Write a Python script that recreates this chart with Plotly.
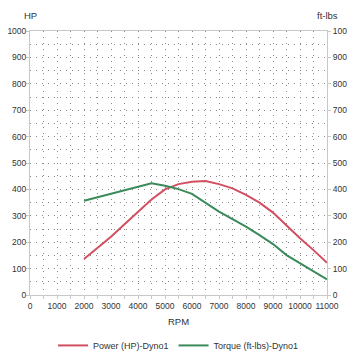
import plotly.graph_objects as go

rpm = [2000, 2500, 3000, 3500, 4000, 4500, 5000, 5500, 6000, 6500, 7000, 7500,
       8000, 8500, 9000, 9500, 10000, 10500, 11000]
power_hp = [136, 178, 221, 268, 315, 362, 400, 420, 429, 432, 420, 404,
            379, 350, 312, 262, 215, 170, 122]
torque_ftlbs = [357, 370, 383, 398, 410, 423, 414, 401, 383, 350, 316, 287,
                259, 227, 193, 151, 120, 88, 59]

x_ticks = list(range(0, 11001, 1000))
y_ticks = list(range(0, 1001, 100))

RED = "#d24f60"
GREEN = "#3b8a5a"
AX = "#c8c8c8"
DOT = "#8a8a8a"
DASH = "1px,5px"
FONT = "Liberation Sans, Arial, sans-serif"
TXT = "#333"

fig = go.Figure()
fig.add_trace(go.Scatter(x=rpm, y=power_hp, mode="lines", name="Power (HP)-Dyno1",
                         line=dict(color=RED, width=2), yaxis="y"))
fig.add_trace(go.Scatter(x=rpm, y=torque_ftlbs, mode="lines", name="Torque (ft-lbs)-Dyno1",
                         line=dict(color=GREEN, width=2), yaxis="y2"))

grid = dict(showgrid=True, gridcolor=DOT, gridwidth=1, griddash=DASH)

# page body has an 8px margin, so the figure is sized to the remaining area
fig.update_layout(
    width=347, height=351,
    margin=dict(l=22, r=28, t=23, b=64, autoexpand=False),
    paper_bgcolor="white", plot_bgcolor="white",
    font=dict(family=FONT, size=8.5, color=TXT),
    showlegend=True,
    legend=dict(orientation="h", x=0.5, xanchor="center",
                yref="container", y=0.08, yanchor="top",
                font=dict(size=9, color=TXT), itemwidth=30,
                traceorder="normal"),
    xaxis=dict(range=[0, 11000], tickvals=x_ticks, ticktext=[str(v) for v in x_ticks],
               tickangle=0, automargin=False,
               showline=True, linecolor=AX, linewidth=1, mirror=True,
               ticks="outside", ticklen=3, tickcolor=AX,
               zeroline=False, **grid,
               minor=dict(dtick=500, tick0=0, showgrid=True, gridcolor=DOT,
                          griddash=DASH, ticks="outside", ticklen=3, tickcolor=AX)),
    yaxis=dict(range=[0, 1000], tickvals=y_ticks, ticktext=[str(v) for v in y_ticks],
               automargin=False, ticklabelstandoff=-2,
               showline=True, linecolor=AX, linewidth=1,
               ticks="outside", ticklen=3, tickcolor=AX, zeroline=False, **grid,
               minor=dict(dtick=50, tick0=0, showgrid=True, gridcolor=DOT,
                          griddash=DASH)),
    yaxis2=dict(range=[0, 1000], tickvals=y_ticks, ticktext=[str(v) for v in y_ticks],
                overlaying="y", side="right", matches="y", automargin=False,
                showline=True, linecolor=AX, linewidth=1,
                ticks="outside", ticklen=3, tickcolor=AX, zeroline=False, showgrid=False),
    annotations=[
        dict(text="HP", xref="paper", yref="paper", x=0, y=1, xanchor="center",
             yanchor="bottom", yshift=8, showarrow=False, font=dict(size=9.5, color=TXT)),
        dict(text="ft-lbs", xref="paper", yref="paper", x=1, y=1, xanchor="center",
             yanchor="bottom", yshift=8, showarrow=False, font=dict(size=9.5, color=TXT)),
        dict(text="RPM", xref="paper", yref="paper", x=0.5, y=-0.1, xanchor="center",
             yanchor="middle", showarrow=False, font=dict(size=9.5, color=TXT)),
    ],
)

fig.write_html("out.html")
